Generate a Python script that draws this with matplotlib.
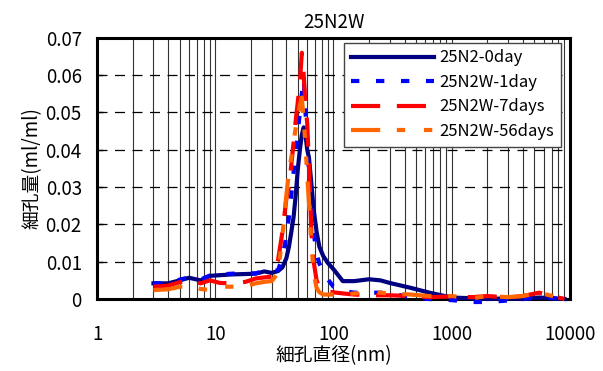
import numpy as np
import matplotlib
matplotlib.use("Agg")
import matplotlib.pyplot as plt
from matplotlib.ticker import FixedLocator, LogLocator, NullFormatter

plt.rcParams['font.family'] = ['Noto Sans CJK JP', 'DejaVu Sans']

# pore diameter (nm)
diam = [3, 4, 5, 6, 7.5, 9, 11, 14, 18, 22, 26, 30, 34, 37, 40, 42, 44, 46, 48, 50,
        52, 54, 56, 58, 60, 62, 65, 68, 72, 76, 82, 90, 100, 120, 150, 200, 250, 300,
        450, 650, 1000, 1500, 2000, 3000, 4000, 5500, 9000]

day0 = [0.0042, 0.0042, 0.005, 0.0057, 0.005, 0.0062, 0.0064, 0.0066, 0.0067, 0.0068,
        0.0074, 0.0070, 0.0075, 0.0085, 0.011, 0.014, 0.018, 0.022, 0.028, 0.035,
        0.040, 0.044, 0.046, 0.044, 0.040, 0.038, 0.031, 0.024, 0.018, 0.014,
        0.0115, 0.0096, 0.0080, 0.0048, 0.0048, 0.0053, 0.0050, 0.0043, 0.003, 0.0017,
        0.0004, 0.0002, 0.0, 0.0002, 0.0, 0.0004, 0.0]
day1 = [0.0042, 0.0042, 0.0052, 0.0058, 0.0052, 0.0063, 0.0066, 0.0068, 0.0068, 0.0069,
        0.0075, 0.0072, 0.0078, 0.011, 0.017, 0.022, 0.028, 0.034, 0.039, 0.045,
        0.050, 0.055, 0.059, 0.050, 0.042, 0.034, 0.026, 0.018, 0.012, 0.0095,
        0.0075, 0.0052, 0.0033, 0.0022, 0.0017, 0.0017, 0.0017, 0.0015, 0.0005, 0.0,
        -0.0003, -0.0008, -0.0008, -0.0004, 0.0, 0.0005, 0.0]
day7 = [0.0033, 0.0036, 0.0045, 0.0051, 0.0042, 0.005, 0.0043, 0.0042, 0.0046, 0.0055,
        0.0058, 0.006, 0.0105, 0.018, 0.027, 0.030, 0.036, 0.042, 0.048, 0.053,
        0.058, 0.066, 0.060, 0.052, 0.047, 0.036, 0.018, 0.010, 0.005, 0.003,
        0.0022, 0.002, 0.0018, 0.0015, 0.0012, 0.001, 0.001, 0.001, 0.0008, 0.0005,
        0.0007, 0.0005, 0.0008, 0.0004, 0.0008, 0.0017, 0.0]
day56 = [0.0024, 0.0026, 0.0033, 0.0034, 0.0027, 0.0024, 0.0033, 0.0033, 0.0034, 0.0042,
         0.0046, 0.0048, 0.007, 0.017, 0.028, 0.034, 0.038, 0.042, 0.046, 0.049,
         0.052, 0.054, 0.048, 0.041, 0.033, 0.026, 0.015, 0.007, 0.003, 0.0018,
         0.0012, 0.0012, 0.0012, 0.0012, 0.0015, 0.0017, 0.0017, 0.0015, 0.0012, 0.0008,
         0.0008, 0.0002, 0.0008, 0.0005, 0.0008, 0.0017, 0.0]

labels = ['25N2-0day', '25N2W-1day', '25N2W-7days', '25N2W-56days']
colors = ['#000080', '#0000FF', '#FF0000', '#FF6600']
dashes = [None, (2, 4), (7, 4), (7, 4, 2, 4.5, 2, 4)]
yticks = [0, 0.01, 0.02, 0.03, 0.04, 0.05, 0.06, 0.07]
ytick_labels = ['0', '0.01', '0.02', '0.03', '0.04', '0.05', '0.06', '0.07']
xticks = [1, 10, 100, 1000, 10000]
xtick_labels = ['1', '10', '100', '1000', '10000']

fig = plt.figure(figsize=(6.03, 3.71), dpi=100)
ax = fig.add_axes([0.161, 0.194, 0.784, 0.704])

for ys, lab, c, d in zip([day0, day1, day7, day56], labels, colors, dashes):
    ln, = ax.plot(diam, ys, color=c, lw=3.0, label=lab, clip_on=False, zorder=3)
    if d is not None:
        ln.set_dashes(d)

ax.set_xscale('log')
ax.set_xlim(1, 10000)
ax.set_ylim(0, 0.07)

ax.xaxis.set_major_locator(FixedLocator(xticks))
ax.set_xticklabels(xtick_labels)
ax.xaxis.set_minor_locator(LogLocator(base=10, subs=np.arange(2, 10)))
ax.xaxis.set_minor_formatter(NullFormatter())
ax.set_yticks(yticks)
ax.set_yticklabels(ytick_labels)

ax.grid(True, which='both', axis='x', color='#333333', lw=0.8, ls='-')
ax.grid(True, which='major', axis='y', color='black', lw=0.9, ls=(0, (8, 6)))

ax.tick_params(axis='x', which='both', length=0, pad=18, labelsize=13.5)
ax.tick_params(axis='y', direction='in', length=4, width=1, pad=11, labelsize=13.5)

for s in ax.spines.values():
    s.set_linewidth(2.2)
    s.set_color('black')

ax.set_title('25N2W', fontsize=13.5, pad=7)
ax.set_xlabel('細孔直径(nm)', fontsize=13.5, labelpad=0)
ax.set_ylabel('細孔量(ml/ml)', fontsize=13.5, labelpad=2)

leg = ax.legend(loc='upper right', bbox_to_anchor=(0.981, 0.981), borderaxespad=0,
                fontsize=12, handlelength=5.0, labelspacing=0.45, fancybox=False,
                framealpha=1, edgecolor='#444444', borderpad=0.4, handletextpad=0.3)
leg.get_frame().set_linewidth(1.0)

fig.savefig('out.png', dpi=100)
